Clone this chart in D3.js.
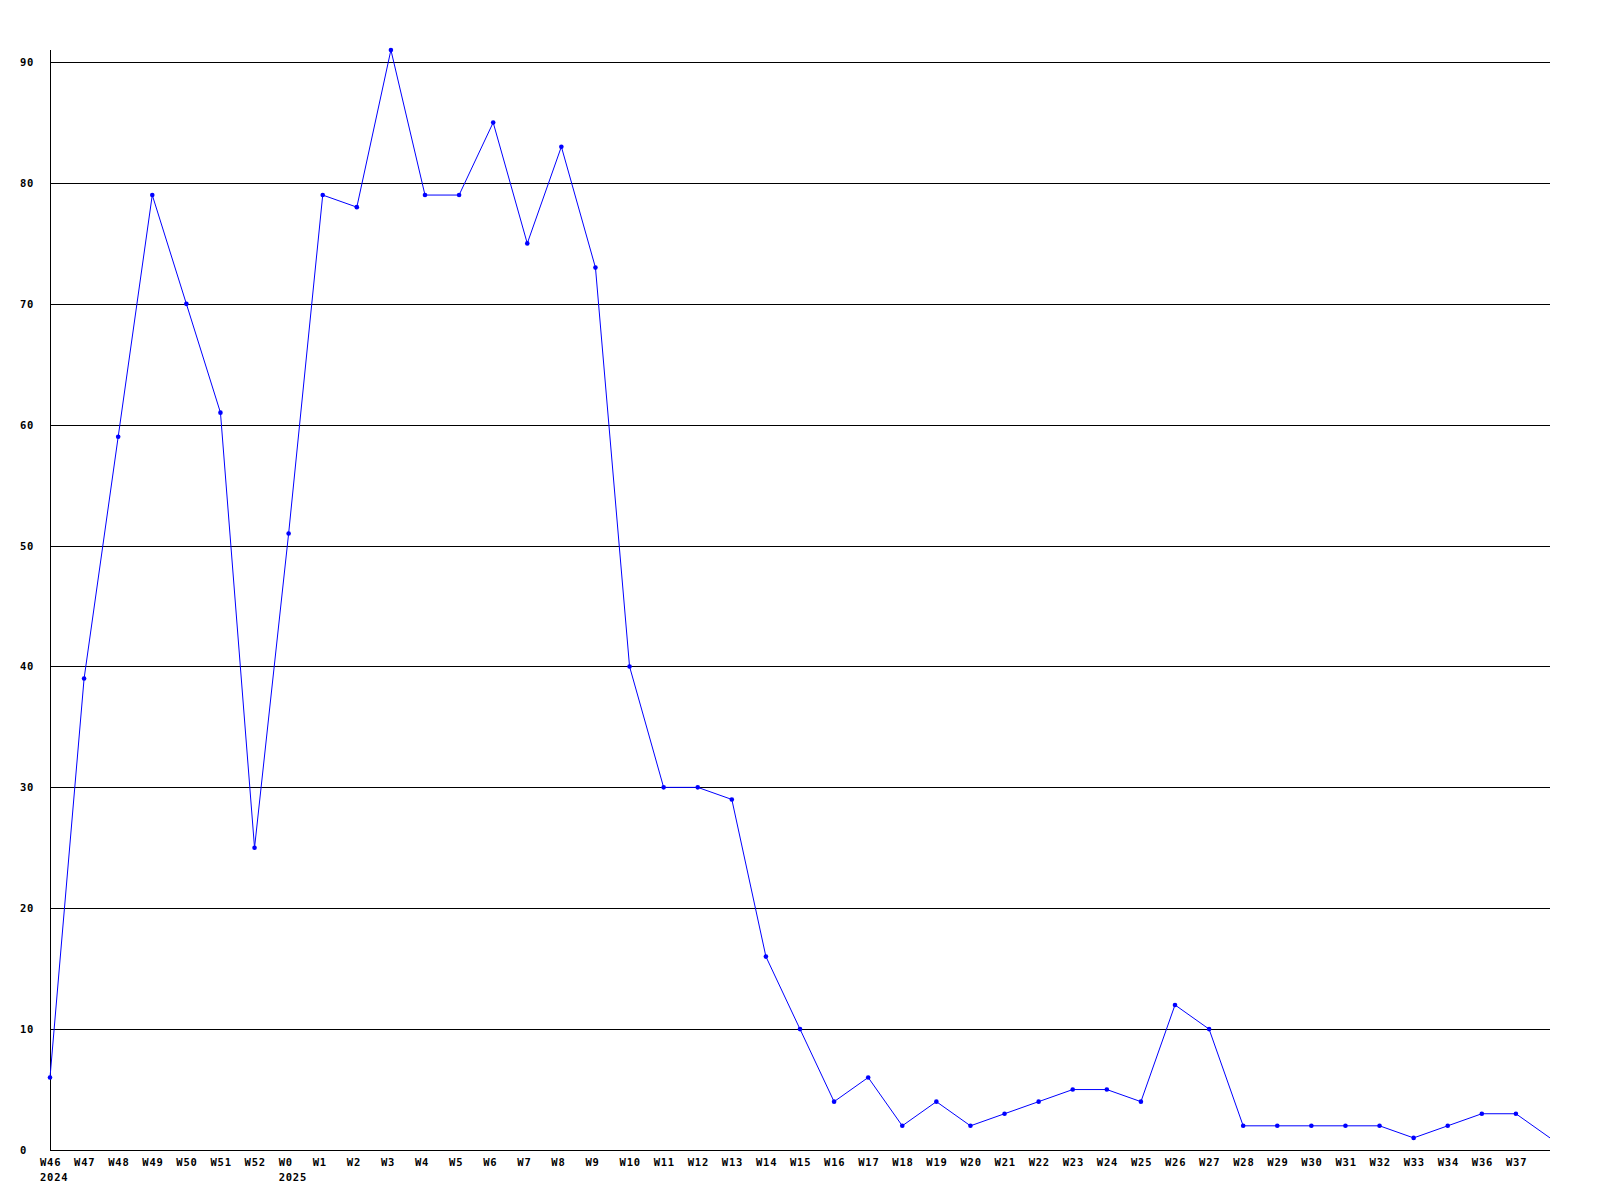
<!DOCTYPE html>
<html>
<head>
<meta charset="utf-8">
<script src="https://cdn.jsdelivr.net/npm/d3@7"></script>
<style>
body{margin:0;background:#fff;}
text{font-family:"DejaVu Sans Mono",monospace;font-weight:bold;font-size:10.5px;letter-spacing:0.8px;fill:#000;}
</style>
</head>
<body>
<div id="chart"></div>
<script>
// weekly counts, last point is the running week (no label, no marker)
var weeks = ["W46","W47","W48","W49","W50","W51","W52","W0","W1","W2","W3","W4","W5","W6","W7","W8","W9","W10","W11","W12","W13","W14","W15","W16","W17","W18","W19","W20","W21","W22","W23","W24","W25","W26","W27","W28","W29","W30","W31","W32","W33","W34","W36","W37",""];
var counts = [6,39,59,79,70,61,25,51,79,78,91,79,79,85,75,83,73,40,30,30,29,16,10,4,6,2,4,2,3,4,5,5,4,12,10,2,2,2,2,2,1,2,3,3,1];
var years = [{week:"W46",label:"2024"},{week:"W0",label:"2025"}];
var yTicks = [0,10,20,30,40,50,60,70,80,90];

var width = 1600, height = 1200;
var plotLeft = 50, plotRight = 1550, plotTop = 50, plotBottom = 1150;

var svg = d3.select('#chart').append('svg').attr('width',width).attr('height',height);

var x = d3.scaleLinear().domain([0, counts.length-1]).range([plotLeft, plotRight]);
var y = d3.scaleLinear().domain([0, 91]).range([plotBottom, plotTop]);

// grid lines
svg.selectAll('.grid').data(yTicks.filter(function(d){return d>0;})).enter().append('line')
    .attr('x1',plotLeft).attr('x2',plotRight)
    .attr('y1',function(d){return Math.round(y(d))+0.5;}).attr('y2',function(d){return Math.round(y(d))+0.5;})
    .attr('stroke','#000').attr('stroke-width',1);

// axes
svg.append('line').attr('x1',plotLeft+0.5).attr('x2',plotLeft+0.5).attr('y1',plotTop).attr('y2',plotBottom).attr('stroke','#000');
svg.append('line').attr('x1',plotLeft).attr('x2',plotRight).attr('y1',plotBottom+0.5).attr('y2',plotBottom+0.5).attr('stroke','#000');

// y labels
svg.selectAll('.ylab').data(yTicks).enter().append('text')
    .attr('x',20).attr('y',function(d){return y(d)+4;})
    .text(function(d){return d;});

// x labels
svg.selectAll('.xlab').data(weeks).enter().append('text')
    .attr('x',function(d,i){return x(i)-10;}).attr('y',plotBottom+16)
    .text(function(d){return d;});
svg.selectAll('.year').data(years).enter().append('text')
    .attr('x',function(d){return x(weeks.indexOf(d.week))-10;}).attr('y',plotBottom+31)
    .text(function(d){return d.label;});

// line
var line = d3.line().x(function(d,i){return x(i);}).y(function(d){return y(d);});
svg.append('path').datum(counts).attr('d',line)
    .attr('fill','none').attr('stroke','#0000ff').attr('stroke-width',1);

// markers
svg.selectAll('.pt').data(counts.slice(0,-1)).enter().append('circle')
    .attr('cx',function(d,i){return x(i);})
    .attr('cy',function(d){return y(d);})
    .attr('r',2.3)
    .attr('fill','#0000ff');
</script>
</body>
</html>
